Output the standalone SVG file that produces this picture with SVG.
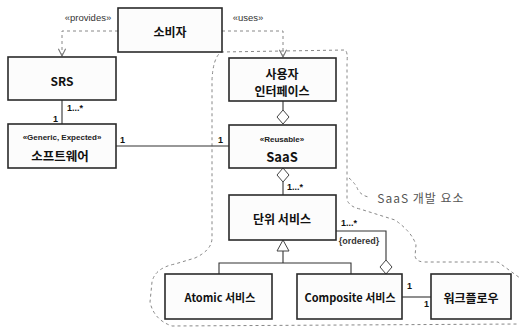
<svg xmlns="http://www.w3.org/2000/svg" width="519" height="327" viewBox="0 0 519 327">
<defs>
<marker id="open" viewBox="0 0 10 10" refX="9" refY="5" markerWidth="9" markerHeight="9" orient="auto" markerUnits="userSpaceOnUse">
<path d="M1,1 L9,5 L1,9" fill="none" stroke="#777" stroke-width="1.2"/>
</marker>
<style>
.box{fill:#fcfcfc;stroke:#2a2a2a;stroke-width:1.6}
.lbl{font-family:"Noto Sans CJK KR","Liberation Sans",sans-serif;font-weight:bold;font-size:12px;fill:#111;text-anchor:middle;dominant-baseline:central}
.st{font-family:"Liberation Sans","Noto Sans CJK KR",sans-serif;font-weight:bold;font-size:8px;fill:#222;text-anchor:middle;dominant-baseline:central}
.dep{font-family:"Liberation Sans",sans-serif;font-size:9.5px;fill:#333;text-anchor:middle;dominant-baseline:central}
.mult{font-family:"Liberation Sans",sans-serif;font-weight:bold;font-size:9px;fill:#111;dominant-baseline:central}
.solid{fill:none;stroke:#333;stroke-width:1.1}
.dash{fill:none;stroke:#888;stroke-width:1;stroke-dasharray:3 3}
.dia{fill:#fff;stroke:#444;stroke-width:1}
</style>
</defs>

<g id="boundary">
<path class="dash" d="M221,52 L345,50 Q348,52 347,62 L347,200 Q350,207 360,209 L395,220 Q412,232 416,245 L415,256 Q416,262 425,262 L498,262 L520,278 L520,324 L172,326 Q154,320 150,302 L152,282 Q155,268 175,264 L195,258 Q212,250 212,238 L212,80 Q213,58 221,52"/>
<path class="dash" d="M349,178 Q356,184 358,190 Q362,196 369,197"/>
<text x="421" y="197" style="font-family:'Noto Sans CJK KR','Liberation Sans',sans-serif;font-size:12px;fill:#555;letter-spacing:1px;text-anchor:middle;dominant-baseline:central">SaaS 개발 요소</text>
</g>

<g id="connectors">
<path class="dash" d="M118,31 L62,31 L62,56" marker-end="url(#open)"/>
<text class="dep" x="88" y="17">«provides»</text>
<path class="dash" d="M222,31 L283,31 L283,57" marker-end="url(#open)"/>
<text class="dep" x="248" y="17">«uses»</text>

<path class="solid" d="M62,100 L62,124"/>
<text class="mult" x="67" y="108">1...*</text>
<text class="mult" x="53" y="119">1</text>

<path class="solid" d="M116,146 L229,146"/>
<text class="mult" x="120" y="140">1</text>
<text class="mult" x="218" y="140">1</text>

<path class="solid" d="M283,101 L283,110"/>
<path class="dia" d="M283,110 L289,117 L283,124 L277,117 Z"/>

<path class="dia" d="M283,168 L289,175 L283,182 L277,175 Z"/>
<path class="solid" d="M283,182 L283,195"/>
<text class="mult" x="287" y="187">1...*</text>

<path class="solid" d="M336,231 L386,231 L386,260"/>
<path class="dia" d="M386,260 L392,267 L386,274 L380,267 Z"/>
<text class="mult" x="341" y="223">1...*</text>
<text class="dep" x="359" y="241" style="font-weight:bold;font-size:9px">{ordered}</text>

<path class="solid" d="M283,251 L283,263 M219,274 L219,263 L351,263 L351,274"/>
<path d="M283,240 L289,251 L277,251 Z" fill="#fff" stroke="#444" stroke-width="1"/>

<path class="solid" d="M402,297 L431,297"/>
<text class="mult" x="407" y="286">1</text>
<text class="mult" x="424" y="304">1</text>
</g>

<g id="consumer">
<rect class="box" x="118" y="8" width="104" height="44"/>
<text class="lbl" x="170" y="31">소비자</text>
</g>
<g id="srs">
<rect class="box" x="8" y="57" width="108" height="43"/>
<text class="lbl" x="62" y="80">SRS</text>
</g>
<g id="software">
<rect class="box" x="8" y="124" width="108" height="44"/>
<text class="st" x="62" y="137">«Generic, Expected»</text>
<text class="lbl" x="60" y="155" style="font-size:12.5px">소프트웨어</text>
</g>
<g id="ui">
<rect class="box" x="229" y="58" width="107" height="43"/>
<text class="lbl" x="282" y="73">사용자</text>
<text class="lbl" x="282" y="90">인터페이스</text>
</g>
<g id="saas">
<rect class="box" x="229" y="125" width="107" height="43"/>
<text class="st" x="282" y="139">«Reusable»</text>
<text class="lbl" x="282" y="156" style="font-size:13px">SaaS</text>
</g>
<g id="unit">
<rect class="box" x="229" y="195" width="107" height="45"/>
<text class="lbl" x="282" y="218">단위 서비스</text>
</g>
<g id="atomic">
<rect class="box" x="165" y="274" width="107" height="45"/>
<text class="lbl" x="220" y="297" style="font-size:11px">Atomic 서비스</text>
</g>
<g id="composite">
<rect class="box" x="297" y="274" width="105" height="45"/>
<text class="lbl" x="350" y="297" style="font-size:11px">Composite 서비스</text>
</g>
<g id="workflow">
<rect class="box" x="431" y="274" width="80" height="45"/>
<text class="lbl" x="471" y="297">워크플로우</text>
</g>
</svg>
